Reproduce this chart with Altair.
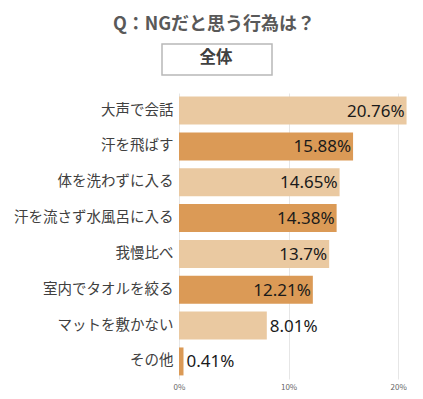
import altair as alt
import pandas as pd

categories = ["大声で会話", "汗を飛ばす", "体を洗わずに入る", "汗を流さず水風呂に入る",
              "我慢比べ", "室内でタオルを絞る", "マットを敷かない", "その他"]
values = [20.76, 15.88, 14.65, 14.38, 13.7, 12.21, 8.01, 0.41]
labels = ["20.76%", "15.88%", "14.65%", "14.38%", "13.7%", "12.21%", "8.01%", "0.41%"]
x_ticks = [0, 0.1, 0.2]

df = pd.DataFrame({
    "cat": categories,
    "v": [v / 100 for v in values],
    "label": labels,
    "shade": [("a" if i % 2 == 0 else "b") for i in range(len(categories))],
})

FONT = "Noto Sans CJK JP"
W, H = 228, 286

y = alt.Y("cat:N", sort=categories, title=None,
          scale=alt.Scale(paddingInner=0.22, paddingOuter=0.1),
          axis=alt.Axis(domain=False, ticks=False, labelFont=FONT, labelFontSize=14.5,
                        labelColor="#404040", labelPadding=6, labelLimit=200))
x = alt.X("v:Q", title=None,
          scale=alt.Scale(domain=[0, 0.208], nice=False),
          axis=alt.Axis(values=x_ticks, format=".0%", domain=False, ticks=False,
                        labelFont=FONT, labelFontSize=8, labelColor="#666666",
                        labelPadding=4, gridColor="#e6e6e6",
                        labelFlush=False))

base = alt.Chart(df)
bars = base.mark_bar().encode(
    x=x, y=y,
    color=alt.Color("shade:N", legend=None,
                    scale=alt.Scale(domain=["a", "b"], range=["#EAC9A1", "#DB9A56"])),
)
inside = base.transform_filter("datum.v >= 0.1").mark_text(
    align="right", baseline="middle", dx=-2, dy=1, font="Noto Sans", fontSize=17, color="#1a1a1a"
).encode(x="v:Q", y=alt.Y("cat:N", sort=categories), text="label:N")
outside = base.transform_filter("datum.v < 0.1").mark_text(
    align="left", baseline="middle", dx=3, dy=1, font="Noto Sans", fontSize=17, color="#1a1a1a"
).encode(x="v:Q", y=alt.Y("cat:N", sort=categories), text="label:N")

box = alt.Chart(pd.DataFrame({"a": [0]})).mark_rect(
    fill="white", stroke="#b8b8b8", strokeWidth=1.5
).encode(x=alt.value(-17), x2=alt.value(93), y=alt.value(-49), y2=alt.value(-18))
box_text = alt.Chart(pd.DataFrame({"t": ["全体"]})).mark_text(
    font=FONT, fontSize=16.5, fontWeight="bold", color="#404040", align="center", baseline="middle"
).encode(x=alt.value(37), y=alt.value(-35), text="t:N")
title = alt.Chart(pd.DataFrame({"t": ["Q：NGだと思う行為は？"]})).mark_text(
    font=FONT, fontSize=18, fontWeight="bold", color="#595959", align="center", baseline="middle"
).encode(x=alt.value(35), y=alt.value(-68), text="t:N")

chart = alt.layer(bars, inside, outside, box, box_text, title).properties(
    width=W, height=H,
    autosize=alt.AutoSizeParams(type="none"),
    padding={"left": 171, "top": 85, "right": 0, "bottom": 20},
).configure_view(stroke=None)

chart.save("out.html", embed_options={"renderer": "svg", "actions": False})
